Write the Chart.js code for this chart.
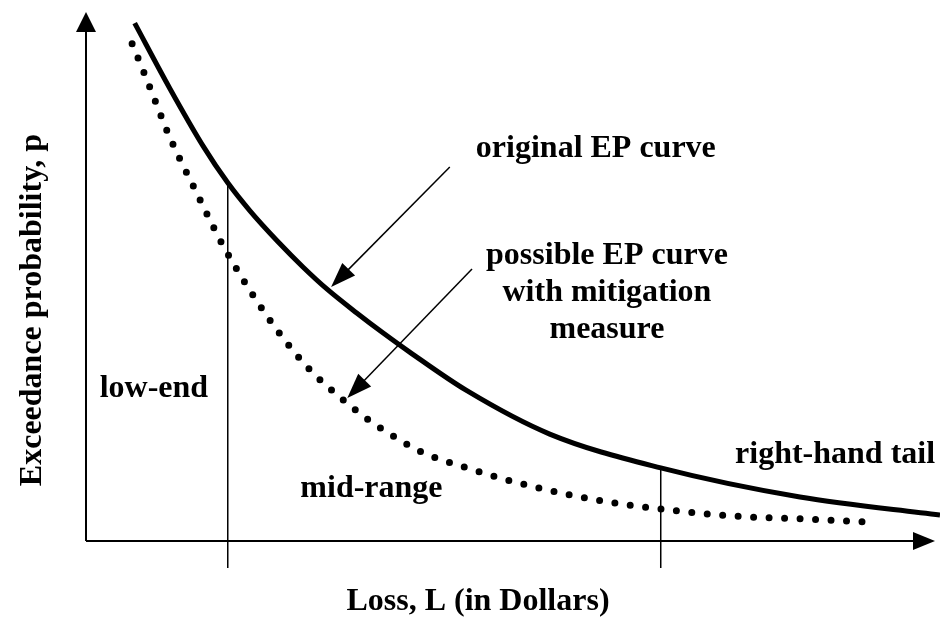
<!DOCTYPE html>
<html>
<head>
<meta charset="utf-8">
<script src="https://cdn.jsdelivr.net/npm/chart.js@4/dist/chart.umd.min.js"></script>
<style>
  html, body { margin: 0; padding: 0; background: #fff; }
  #wrap { width: 940px; height: 620px; position: relative; }
</style>
</head>
<body>
<div id="wrap"><canvas id="epChart"></canvas></div>
<script>
// original EP curve (loss, exceedance probability) - arbitrary units
var origLoss = [5.7, 9.8, 13.7, 16.6, 19.2, 22.4, 25.4, 28.3, 31.7, 34.8, 37.9, 44.6, 54.3, 67.3, 83.6, 100];
var origProb = [97.9, 85.6, 74.7, 67.7, 62.4, 56.7, 51.8, 47.5, 43.1, 39.3, 35.7, 28.4, 20.2, 13.8, 8.3, 4.9];

// possible EP curve with mitigation measure
var mitLoss = [5.4, 6.8, 8.2, 9.6, 11.2, 12.9, 14.5, 16.2, 21.2, 25.9, 30.0, 32.9, 35.9, 39.3, 44.6, 52.0, 61.0, 66.4, 75.8, 83.3, 90.9];
var mitProb = [94.0, 88.5, 82.8, 77.1, 71.5, 66.0, 60.7, 55.4, 42.5, 32.9, 26.8, 23.1, 19.9, 16.8, 13.8, 10.4, 7.4, 6.2, 4.7, 4.2, 3.6];

// region dividers (loss value where the range changes)
var dividers = [16.6, 67.3];
var dividerTop = [67.7, 13.8];
var dividerBottom = -5.1;

// annotation arrows [fromX, fromY, toX, toY]
var arrows = [[42.6, 70.7, 28.7, 48.0], [45.2, 51.4, 30.6, 27.0]];

// labels: text lines, x, y, align
var labels = [
  { lines: ['original EP curve'], x: 59.7, y: 72.6, align: 'center' },
  { lines: ['possible EP curve', 'with mitigation', 'measure'], x: 61.0, y: 52.4, align: 'center' },
  { lines: ['low-end'], x: 1.6, y: 27.2, align: 'left' },
  { lines: ['mid-range'], x: 25.1, y: 8.3, align: 'left' },
  { lines: ['right-hand tail'], x: 76.0, y: 14.7, align: 'left' }
];

var xTitle = 'Loss, L (in Dollars)';
var yTitle = 'Exceedance probability, p';

function pts(xs, ys) {
  return xs.map(function(v, i){ return { x: v, y: ys[i] }; });
}

var dividerSets = dividers.map(function(d, i){
  return {
    data: [{ x: d, y: dividerTop[i] }, { x: d, y: dividerBottom }],
    borderColor: '#000', borderWidth: 1.5, pointRadius: 0, fill: false, clip: false
  };
});

var FONT = 'bold 32px "Liberation Serif", "Times New Roman", serif';

function head(ctx, x1, y1, x2, y2, len, half) {
  var a = Math.atan2(y2 - y1, x2 - x1);
  ctx.beginPath();
  ctx.moveTo(x2, y2);
  ctx.lineTo(x2 - len * Math.cos(a) + half * Math.sin(a), y2 - len * Math.sin(a) - half * Math.cos(a));
  ctx.lineTo(x2 - len * Math.cos(a) - half * Math.sin(a), y2 - len * Math.sin(a) + half * Math.cos(a));
  ctx.closePath();
  ctx.fill();
}

var decor = {
  id: 'decor',
  beforeDatasetsDraw: function(chart) {
    var ctx = chart.ctx, xs = chart.scales.x, ys = chart.scales.y, ca = chart.chartArea;
    var ox = xs.getPixelForValue(0), oy = ys.getPixelForValue(0);
    ctx.save();
    ctx.strokeStyle = '#000';
    ctx.fillStyle = '#000';
    ctx.lineWidth = 2;
    // axes
    ctx.beginPath();
    ctx.moveTo(ox, oy); ctx.lineTo(ox, ca.top + 4);
    ctx.moveTo(ox, oy); ctx.lineTo(ca.right - 10, oy);
    ctx.stroke();
    head(ctx, ox, oy, ox, ca.top, 20, 10);
    head(ctx, ox, oy, ca.right - 5, oy, 22, 9);
    ctx.restore();
  },
  afterDatasetsDraw: function(chart) {
    var ctx = chart.ctx, xs = chart.scales.x, ys = chart.scales.y;
    ctx.save();
    ctx.strokeStyle = '#000';
    ctx.fillStyle = '#000';
    ctx.lineWidth = 1.5;
    arrows.forEach(function(a){
      var x1 = xs.getPixelForValue(a[0]), y1 = ys.getPixelForValue(a[1]);
      var x2 = xs.getPixelForValue(a[2]), y2 = ys.getPixelForValue(a[3]);
      var ang = Math.atan2(y2 - y1, x2 - x1);
      ctx.beginPath();
      ctx.moveTo(x1, y1);
      ctx.lineTo(x2 - 15 * Math.cos(ang), y2 - 15 * Math.sin(ang));
      ctx.stroke();
      head(ctx, x1, y1, x2, y2, 25, 9);
    });
    ctx.font = FONT;
    ctx.textBaseline = 'alphabetic';
    labels.forEach(function(l){
      ctx.textAlign = l.align;
      var px = xs.getPixelForValue(l.x), py = ys.getPixelForValue(l.y);
      l.lines.forEach(function(t, i){ ctx.fillText(t, px, py + i * 37); });
    });
    // axis titles
    ctx.textAlign = 'center';
    ctx.fillText(xTitle, 478, 610);
    ctx.translate(41, 310);
    ctx.rotate(-Math.PI / 2);
    ctx.fillText(yTitle, 0, 0);
    ctx.restore();
  }
};

new Chart('epChart', {
  type: 'line',
  data: {
    datasets: [{
      data: pts(origLoss, origProb),
      borderColor: '#000', borderWidth: 5, pointRadius: 0, fill: false,
      cubicInterpolationMode: 'monotone', clip: false, borderCapStyle: 'butt'
    }, {
      data: pts(mitLoss, mitProb),
      borderColor: '#000', borderWidth: 7, pointRadius: 0, fill: false,
      cubicInterpolationMode: 'monotone', clip: false,
      borderDash: [0, 15.5], borderCapStyle: 'round'
    }].concat(dividerSets)
  },
  options: {
    responsive: true,
    maintainAspectRatio: false,
    animation: false,
    layout: { padding: { left: 86, right: 0, top: 12, bottom: 50 } },
    plugins: { legend: { display: false }, tooltip: { enabled: false } },
    scales: {
      x: { type: 'linear', min: 0, max: 100, display: false },
      y: { min: -5.5, max: 100, display: false }
    }
  },
  plugins: [decor]
});
</script>
</body>
</html>
